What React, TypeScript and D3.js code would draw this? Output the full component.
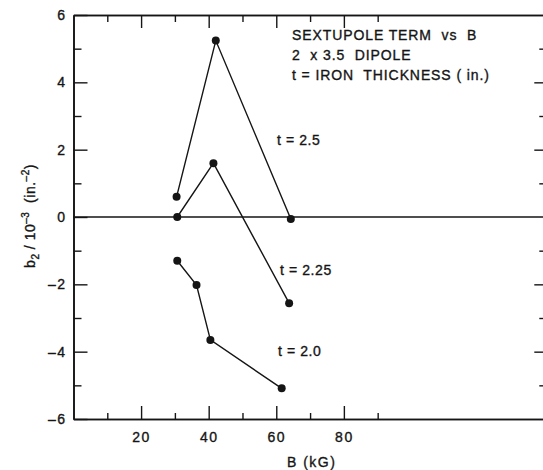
import { useEffect, useRef } from 'react';
import * as d3 from 'd3';

// values (B in kG, b2 in 1e-3 in^-2)
const bField25 = [30.5, 42.1, 64.3];
const b2_25 = [0.6, 5.24, -0.06];
const bField225 = [30.7, 41.4, 63.8];
const b2_225 = [0.0, 1.6, -2.56];
const bField20 = [30.7, 36.4, 40.5, 61.6];
const b2_20 = [-1.3, -2.02, -3.65, -5.09];
const seriesLabels = ['t = 2.5', 't = 2.25', 't = 2.0'];

const xMajor = [20, 40, 60, 80];
const xMinor = [10, 30, 50, 70, 90];
const yMajor = [-6, -4, -2, 0, 2, 4, 6];
const yMinor = [-5, -3, -1, 1, 3, 5];
const yRightMajor = [-4, -2, 2, 4];
const notes = ['SEXTUPOLE TERM  vs  B', '2  x 3.5  DIPOLE', 't = IRON  THICKNESS ( in.)'];

const W = 543;
const H = 470;
const INK = '#151515';
const FONT = '"Liberation Sans", Arial, sans-serif';

const App = () => {
  const svgRef = useRef(null);

  useEffect(() => {
    const svg = d3.select(svgRef.current);
    svg.selectAll('*').remove();

    const x = d3.scaleLinear().domain([0, 139.6]).range([73.5, 545.3]);
    const y = d3.scaleLinear().domain([-6, 6]).range([419, 15]);
    const fmt = (d: any) => String(d).replace('-', '\u2013');

    // text in the scan is a bit heavier than plain regular weight
    const ink = (t: any) => t
      .attr('fill', INK)
      .attr('stroke', INK)
      .attr('stroke-width', 0.35)
      .attr('font-family', FONT)
      .attr('font-size', 14);

    const styleAxis = (g: any) => {
      g.selectAll('path').attr('stroke', INK).attr('stroke-width', 1.6);
      g.selectAll('line').attr('stroke', INK).attr('stroke-width', 1.4);
      g.selectAll('text').call(ink).attr('letter-spacing', 1.5);
    };

    // bottom axis, ticks pointing up
    const bottom = svg.append('g').attr('transform', `translate(0,${y(-6)})`);
    bottom.append('g')
      .call(d3.axisBottom(x).tickValues(xMinor).tickSize(-6).tickSizeOuter(0).tickFormat(() => ''))
      .call(styleAxis);
    bottom.append('g')
      .call(d3.axisBottom(x).tickValues(xMajor).tickSize(-13).tickSizeOuter(0).tickPadding(12.7).tickFormat(fmt))
      .call(styleAxis);

    // top axis, ticks pointing down
    const top = svg.append('g').attr('transform', `translate(0,${y(6)})`);
    top.append('g')
      .call(d3.axisTop(x).tickValues(xMinor).tickSize(-7).tickSizeOuter(0).tickFormat(() => ''))
      .call(styleAxis);
    top.append('g')
      .call(d3.axisTop(x).tickValues(xMajor).tickSize(-13).tickSizeOuter(0).tickFormat(() => ''))
      .call(styleAxis);

    // left axis
    const left = svg.append('g').attr('transform', `translate(${x(0)},0)`);
    left.append('g')
      .call(d3.axisLeft(y).tickValues(yMinor).tickSize(-8).tickSizeOuter(0).tickFormat(() => ''))
      .call(styleAxis);
    left.append('g')
      .call(d3.axisLeft(y).tickValues(yMajor).tickSize(-14).tickSizeOuter(0).tickPadding(7).tickFormat(fmt))
      .call(styleAxis);

    // right axis (sits just past the page edge)
    const right = svg.append('g').attr('transform', `translate(${x(139.6)},0)`);
    right.append('g')
      .call(d3.axisRight(y).tickValues(yMinor).tickSize(-6).tickSizeOuter(0).tickFormat(() => ''))
      .call(styleAxis);
    right.append('g')
      .call(d3.axisRight(y).tickValues(yRightMajor).tickSize(-11).tickSizeOuter(0).tickFormat(() => ''))
      .call(styleAxis);

    // zero line
    svg.append('line')
      .attr('x1', x(0)).attr('x2', x(139.6))
      .attr('y1', y(0)).attr('y2', y(0))
      .attr('stroke', INK).attr('stroke-width', 1.4);

    // series
    const series = [
      { b: bField25, v: b2_25 },
      { b: bField225, v: b2_225 },
      { b: bField20, v: b2_20 },
    ];

    series.forEach((s) => {
      const pts = s.b.map((b, i) => [x(b), y(s.v[i])] as [number, number]);
      svg.append('path')
        .attr('d', d3.line()(pts))
        .attr('fill', 'none')
        .attr('stroke', INK)
        .attr('stroke-width', 1.4);
      svg.append('g').selectAll('circle')
        .data(pts)
        .join('circle')
        .attr('cx', (d) => d[0])
        .attr('cy', (d) => d[1])
        .attr('r', 4)
        .attr('fill', INK);
    });

    // series labels
    const labelAt = [[60.2, 2.14], [61.1, -1.72], [60.5, -4.13]];
    seriesLabels.forEach((t, i) => {
      svg.append('text')
        .attr('x', x(labelAt[i][0]))
        .attr('y', y(labelAt[i][1]))
        .call(ink)
        .attr('letter-spacing', 0.6)
        .style('white-space', 'pre')
        .text(t);
    });

    // notes block
    notes.forEach((t, i) => {
      svg.append('text')
        .attr('x', 292)
        .attr('y', 40 + i * 20)
        .call(ink)
        .attr('letter-spacing', 0.9)
        .style('white-space', 'pre')
        .text(t);
    });

    // x title
    svg.append('text')
      .attr('x', 311.7)
      .attr('y', 467)
      .attr('text-anchor', 'middle')
      .call(ink)
      .attr('letter-spacing', 1.5)
      .style('white-space', 'pre')
      .text('B (kG)');

    // y title
    const yt = svg.append('text')
      .attr('transform', 'translate(34.5,216) rotate(-90)')
      .attr('text-anchor', 'middle')
      .call(ink)
      .attr('letter-spacing', 0.5)
      .style('white-space', 'pre');
    yt.append('tspan').text('b');
    yt.append('tspan').attr('font-size', 10).attr('dy', 4).text('2');
    yt.append('tspan').attr('dy', -4).text(' / 10');
    yt.append('tspan').attr('font-size', 10).attr('dy', -6).text('\u20133');
    yt.append('tspan').attr('dy', 6).text('  (in.');
    yt.append('tspan').attr('font-size', 10).attr('dy', -6).text('\u20132');
    yt.append('tspan').attr('dy', 6).text(')');
  }, []);

  return (
    <svg
      ref={svgRef}
      width={W}
      height={H}
      style={{ position: 'absolute', left: 0, top: 0, background: '#fff' }}
    />
  );
};

export default App;
